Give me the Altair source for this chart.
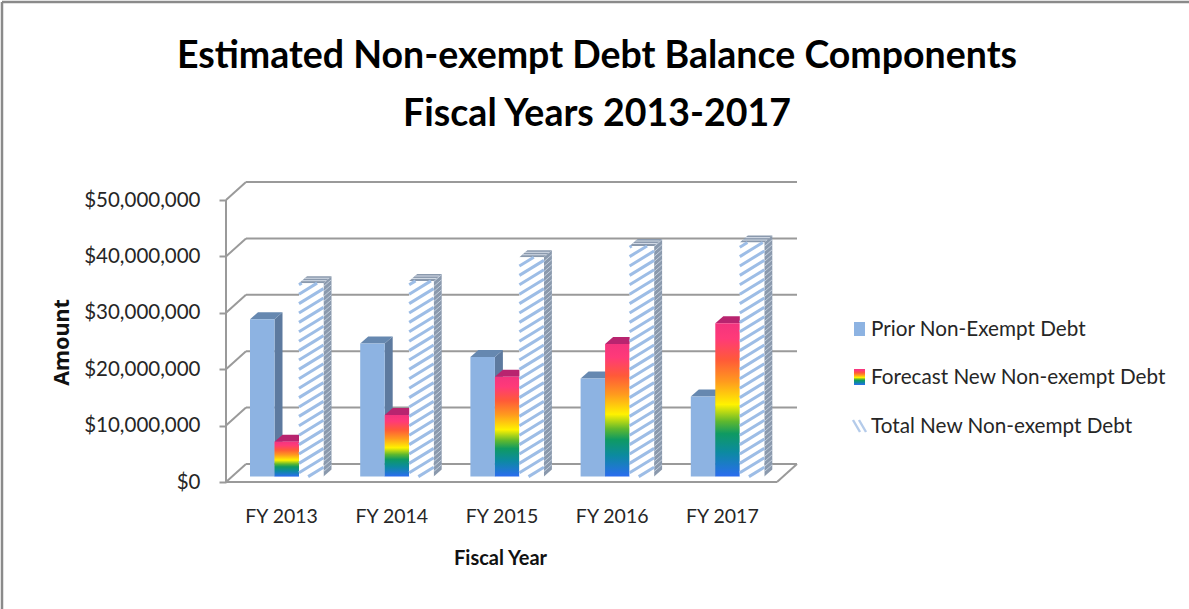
import altair as alt
import pandas as pd

# Fiscal-year debt components, in dollars
years = ["FY 2013", "FY 2014", "FY 2015", "FY 2016", "FY 2017"]
prior_debt = [27900000, 23600000, 21200000, 17400000, 14200000]
forecast_debt = [6200000, 10900000, 17700000, 23500000, 27200000]
total_debt = [34300000, 34700000, 38900000, 40900000, 41500000]
series_names = ["Prior Non-Exempt Debt", "Forecast New Non-exempt Debt", "Total New Non-exempt Debt"]
axis_ticks = [0, 10000000, 20000000, 30000000, 40000000, 50000000]
title_lines = ["Estimated Non-exempt Debt Balance Components", "Fiscal Years 2013-2017"]

FONT = "Lato"
GRID = "#9a9a9a"
TEXT = "#262626"

# Canvas placement of the plot area
LEFT, TOP, PLOT_W, PLOT_H = 226, 182, 571, 300
SLOT_PX = 110.2
UNIT_PX = 56.4 / 1e7  # pixels per dollar

# Oblique projection: wall depth, bar depth and bar lift from the floor, in data units
WALL_DX, WALL_DY = 20 / SLOT_PX, 18 / UNIT_PX
BAR_DX, BAR_DY = 8 / SLOT_PX, 7 / UNIT_PX
LIFT = 5.4 / UNIT_PX
BAR_W = 24.5 / SLOT_PX
BAR_START = 24 / SLOT_PX

x_scale = alt.Scale(domain=[0, PLOT_W / SLOT_PX], nice=False, zero=False)
y_scale = alt.Scale(domain=[0, PLOT_H / UNIT_PX], nice=False, zero=False)


def side_rows(values, position):
    rows = []
    for i, v in enumerate(values):
        x = i + BAR_START + BAR_W * (position + 1)
        rows.append(dict(key=i, x=x, lo=LIFT, hi=LIFT + v))
        rows.append(dict(key=i, x=x + BAR_DX, lo=LIFT + BAR_DY, hi=LIFT + v + BAR_DY))
    return pd.DataFrame(rows)


def top_rows(values, position):
    rows = []
    for i, v in enumerate(values):
        x0 = i + BAR_START + BAR_W * position
        t = LIFT + v
        rows.append(dict(key=i, x=x0, lo=t, hi=t))
        rows.append(dict(key=i, x=x0 + BAR_DX, lo=t, hi=t + BAR_DY))
        rows.append(dict(key=i, x=x0 + BAR_W, lo=t, hi=t + BAR_DY))
        rows.append(dict(key=i, x=x0 + BAR_W + BAR_DX, lo=t + BAR_DY, hi=t + BAR_DY))
    return pd.DataFrame(rows)


def front_rows(values, position):
    return pd.DataFrame([
        dict(x=i + BAR_START + BAR_W * position, x2=i + BAR_START + BAR_W * (position + 1), y=LIFT, y2=LIFT + v)
        for i, v in enumerate(values)
    ])


def hatch_rows(values, position):
    """Diagonal strokes clipped to each hatched bar's front face."""
    rows = []
    rise = 15 / UNIT_PX
    gap = 9.4 / UNIT_PX
    for i, v in enumerate(values):
        x0 = i + BAR_START + BAR_W * position
        bottom, top = LIFT, LIFT + v
        c = bottom - rise
        while c < top:
            s0 = max(0.0, (bottom - c) / rise)
            s1 = min(1.0, (top - c) / rise)
            if s1 > s0:
                rows.append(dict(x=x0 + BAR_W * s0, x2=x0 + BAR_W * s1, y=c + rise * s0, y2=c + rise * s1))
            c += gap
    return pd.DataFrame(rows)


def side_hatch_rows(values, position):
    """Fine strokes running across the side face of the hatched bars."""
    rows = []
    gap = 5 / UNIT_PX
    for i, v in enumerate(values):
        x = i + BAR_START + BAR_W * (position + 1)
        c = LIFT + gap
        while c < LIFT + v:
            rows.append(dict(x=x, x2=x + BAR_DX, y=c, y2=c + BAR_DY))
            c += gap
    return pd.DataFrame(rows)


def top_hatch_rows(values, position):
    """Pale strokes along the top face of the hatched bars."""
    rows = []
    for i, v in enumerate(values):
        x0 = i + BAR_START + BAR_W * position
        t = LIFT + v
        for frac in (0.35, 0.7):
            rows.append(dict(
                x=x0 + BAR_DX * frac, x2=x0 + BAR_W + BAR_DX * frac,
                y=t + BAR_DY * frac, y2=t + BAR_DY * frac,
            ))
    return pd.DataFrame(rows)


def X(**kw):
    return alt.X("x:Q", scale=x_scale, **kw)


def Y(field="y", **kw):
    return alt.Y(f"{field}:Q", scale=y_scale, **kw)


def face_area(df, color):
    return alt.Chart(df).mark_area(color=color, opacity=1).encode(
        X(), Y("lo"), y2="hi:Q", detail="key:N"
    )


def segments(df, color, width):
    return alt.Chart(df).mark_rule(color=color, strokeWidth=width).encode(X(), x2="x2:Q", y=Y(), y2="y2:Q")


def front_face(df, color):
    return alt.Chart(df).mark_rect(color=color).encode(X(), x2="x2:Q", y=Y(), y2="y2:Q")


rainbow = alt.LinearGradient(
    gradient="linear", x1=0, x2=0, y1=1, y2=0,
    stops=[
        alt.GradientStop(offset=0.0, color="#2b6cf0"),
        alt.GradientStop(offset=0.16, color="#0c8aa0"),
        alt.GradientStop(offset=0.28, color="#0f9a62"),
        alt.GradientStop(offset=0.36, color="#5fb82e"),
        alt.GradientStop(offset=0.47, color="#fff200"),
        alt.GradientStop(offset=0.62, color="#ff9a1e"),
        alt.GradientStop(offset=0.76, color="#ff5a38"),
        alt.GradientStop(offset=0.9, color="#ff3a78"),
        alt.GradientStop(offset=1.0, color="#f4347f"),
    ],
)

# Walls and floor
back_grid = pd.DataFrame([dict(x=WALL_DX, x2=PLOT_W / SLOT_PX, y=v + WALL_DY, y2=v + WALL_DY) for v in axis_ticks])
left_diag = pd.DataFrame([dict(x=0, x2=WALL_DX, y=v, y2=v + WALL_DY) for v in axis_ticks])
front_w = PLOT_W / SLOT_PX - WALL_DX
floor_lines = pd.DataFrame([
    dict(x=0, x2=front_w, y=0, y2=0),
    dict(x=front_w, x2=PLOT_W / SLOT_PX, y=0, y2=WALL_DY),
    dict(x=0, x2=0, y=0, y2=50000000),
])

axis_layer = alt.Chart(back_grid).mark_rule(color=GRID, strokeWidth=2).encode(
    X(
        title="Fiscal Year",
        axis=alt.Axis(
            values=[i + 0.5 for i in range(len(years))],
            labelExpr=str(years) + "[floor(datum.value)]",
            domain=False, ticks=False, grid=False, labelPadding=25,
            labelFont=FONT, labelFontSize=19.5, labelColor=TEXT, labelOverlap=False,
            titleFont=FONT, titleFontSize=20, titleFontWeight="bold", titleColor="#111111",
            titleBaseline="middle", titleX=274, titleY=76,
        ),
    ),
    x2="x2:Q",
    y=Y(
        title="Amount",
        axis=alt.Axis(
            values=axis_ticks, format="$,.0f", domain=False, grid=False,
            tickColor=GRID, tickWidth=2, tickSize=7, labelPadding=19,
            labelFont=FONT, labelFontSize=20.5, labelColor=TEXT,
            titleFont="Noto Sans", titleFontSize=21.5, titleFontWeight="bold", titleColor="#111111",
            titleBaseline="middle", titleX=-164, titleY=160,
        ),
    ),
    y2="y2:Q",
)

layers = [
    axis_layer,
    segments(left_diag, GRID, 2),
    segments(floor_lines, GRID, 2),
    # prior debt
    face_area(side_rows(prior_debt, 0), "#5d7a9f"),
    face_area(top_rows(prior_debt, 0), "#6688b0"),
    front_face(front_rows(prior_debt, 0), "#8db3e2"),
    # forecast debt
    face_area(top_rows(forecast_debt, 1), "#b8246f"),
    front_face(front_rows(forecast_debt, 1), rainbow),
    # total debt, hatched
    face_area(side_rows(total_debt, 2), "#8a99ad"),
    segments(side_hatch_rows(total_debt, 2), "#c4cfdd", 1),
    face_area(top_rows(total_debt, 2), "#8a99ad"),
    segments(top_hatch_rows(total_debt, 2), "#d5dde8", 1),
    front_face(front_rows(total_debt, 2), "#ffffff"),
    segments(hatch_rows(total_debt, 2), "#9dbde6", 3),
]

# Key on the right
LEGEND_SWATCH_L, LEGEND_SWATCH_R = 854 - LEFT, 865 - LEFT
LEGEND_TEXT_X = 871 - LEFT
legend_y = [330 - TOP, 378 - TOP, 427 - TOP]
one = pd.DataFrame({"n": [0]})


def px_rect(y_mid, half, color):
    return alt.Chart(one).mark_rect(color=color).encode(
        x=alt.value(LEGEND_SWATCH_L), x2=alt.value(LEGEND_SWATCH_R),
        y=alt.value(y_mid - half), y2=alt.value(y_mid + half),
    )


def px_stroke(x0, y0, x1, y1, color, width):
    return alt.Chart(one).mark_rule(color=color, strokeWidth=width).encode(
        x=alt.value(x0), x2=alt.value(x1), y=alt.value(y0), y2=alt.value(y1)
    )


legend_layers = [px_rect(legend_y[0] - 1, 7, "#8db3e2"), px_rect(legend_y[1] - 1, 8, rainbow)]
for shift in (0, 6):
    legend_layers.append(px_stroke(
        LEGEND_SWATCH_L + shift - 1, legend_y[2] - 7,
        LEGEND_SWATCH_L + shift + 6, legend_y[2] + 5, "#b4cbea", 2.4,
    ))
for name, ly in zip(series_names, legend_y):
    legend_layers.append(
        alt.Chart(pd.DataFrame({"label": [name]})).mark_text(
            align="left", baseline="middle", font=FONT, fontSize=20.7, color=TEXT
        ).encode(x=alt.value(LEGEND_TEXT_X), y=alt.value(ly), text="label:N")
    )

# Two-line heading, centred over the whole canvas
title_y = [57 - TOP, 115 - TOP]
title_layers = [
    alt.Chart(pd.DataFrame({"label": [line]})).mark_text(
        align="center", baseline="middle", font=FONT, fontSize=37.5, fontWeight="bold", color="#000000"
    ).encode(x=alt.value(597 - LEFT), y=alt.value(ty), text="label:N")
    for line, ty in zip(title_lines, title_y)
]

# Outer frame: top and left edges
frame = [
    px_stroke(2 - LEFT, 2 - TOP, 1189 - LEFT, 2 - TOP, "#8a8a8a", 2.5),
    px_stroke(2 - LEFT, 2 - TOP, 2 - LEFT, 609 - TOP, "#8a8a8a", 2.5),
]

chart = (
    alt.layer(*layers, *legend_layers, *title_layers, *frame)
    .properties(
        width=PLOT_W,
        height=PLOT_H,
        padding={"left": LEFT, "top": TOP, "right": 1189 - LEFT - PLOT_W, "bottom": 609 - TOP - PLOT_H},
        autosize=alt.AutoSizeParams(type="none"),
        background="white",
    )
    .configure_view(stroke=None)
)

chart.save("out.html", embed_options={"renderer": "svg", "actions": False})
